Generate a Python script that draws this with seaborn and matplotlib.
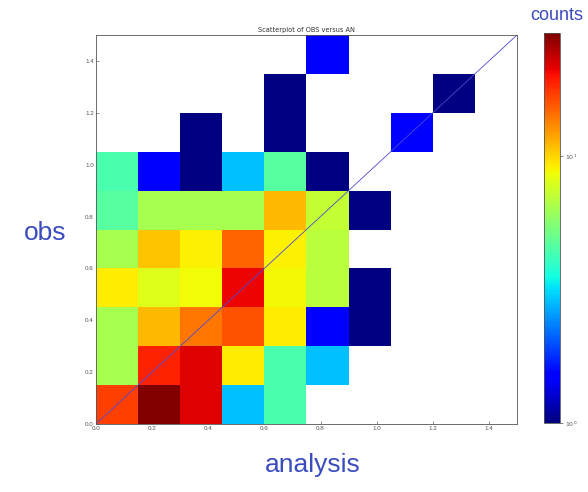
import numpy as np
import pandas as pd
import matplotlib
matplotlib.use("Agg")
import matplotlib.pyplot as plt
from matplotlib.colors import LogNorm
import seaborn as sns

# Bin layout shared by both axes
bin_width = 0.15
n_bins = 10
axis_range = (0.0, 1.5)

# Counts per cell: rows are obs bins (bottom to top), columns are analysis bins (left to right)
row0 = [17, 29, 22, 2.9, 4.4, 0, 0, 0, 0, 0]
row1 = [6.4, 19, 22, 9.2, 4.4, 2.9, 0, 0, 0, 0]
row2 = [6.4, 11, 14, 16, 9.2, 1.45, 1, 0, 0, 0]
row3 = [9.2, 8.0, 8.7, 21, 8.8, 7.0, 1, 0, 0, 0]
row4 = [6.4, 10.6, 9.0, 15, 9.0, 7.0, 0, 0, 0, 0]
row5 = [4.6, 6.4, 6.4, 6.4, 11, 7.2, 1, 0, 0, 0]
row6 = [4.4, 1.45, 1, 2.9, 4.6, 1, 0, 0, 0, 0]
row7 = [0, 0, 1, 0, 1, 0, 0, 1.45, 0, 0]
row8 = [0, 0, 0, 0, 1, 0, 0, 0, 1, 0]
row9 = [0, 0, 0, 0, 0, 1.45, 0, 0, 0, 0]
grid = [row0, row1, row2, row3, row4, row5, row6, row7, row8, row9]

tick_vals = [0.0, 0.2, 0.4, 0.6, 0.8, 1.0, 1.2, 1.4]
tick_labels = ["0.0", "0.2", "0.4", "0.6", "0.8", "1.0", "1.2", "1.4"]
cbar_ticks = [1, 10]
cbar_labels = ["$10^0$", "$10^1$"]
count_max = 29

# Long-form table: one weighted record per non-empty cell, placed at the bin centre
edges = np.linspace(axis_range[0], axis_range[1], n_bins + 1)
centres = (edges[:-1] + edges[1:]) / 2
recs = []
for i, row in enumerate(grid):
    for j, c in enumerate(row):
        if c > 0:
            recs.append({"analysis": centres[j], "obs": centres[i], "count": c})
df = pd.DataFrame(recs)

sns.set_theme(style="white")
plt.rcParams["font.family"] = ["Liberation Sans", "DejaVu Sans"]

fig = plt.figure(figsize=(5.88, 4.92), dpi=100)
ax = fig.add_axes([96 / 588, 1 - 424 / 492, 421 / 588, 389 / 492])
cax = fig.add_axes([544 / 588, 1 - 423 / 492, 16 / 588, 390 / 492])

jet = matplotlib.colormaps["jet"]
sns.histplot(data=df, x="analysis", y="obs", weights="count",
             bins=n_bins, binrange=[axis_range, axis_range],
             cmap=jet, ax=ax)
mesh = ax.collections[0]
mesh.set_norm(LogNorm(vmin=1, vmax=count_max))

# Reference diagonal y = x
ax.axline((axis_range[0], axis_range[0]), slope=1, color="#4a4ad8", lw=0.6)

ax.set_xlim(axis_range)
ax.set_ylim(axis_range)
ax.set_xticks(tick_vals)
ax.set_xticklabels(tick_labels)
ax.set_yticks(tick_vals)
ax.set_yticklabels(tick_labels)
ax.tick_params(axis="both", labelsize=4.5, labelcolor="#555555",
               direction="in", length=2, width=0.4, color="#444444",
               bottom=True, left=True, pad=1.5)
for s in ax.spines.values():
    s.set_color("#555555")
    s.set_linewidth(0.6)
ax.set_xlabel("")
ax.set_ylabel("")
ax.set_title("Scatterplot of OBS versus AN", fontsize=4.8, color="#333333", pad=2,
             family="DejaVu Sans")

cb = fig.colorbar(mesh, cax=cax)
cb.set_ticks(cbar_ticks)
cb.set_ticklabels(cbar_labels)
cb.ax.minorticks_off()
cb.ax.tick_params(labelsize=4.5, labelcolor="#555555", length=2, width=0.4, pad=1.5)
cb.outline.set_linewidth(0.6)
cb.outline.set_edgecolor("#555555")

label_color = "#3a4cc0"
fig.text(45 / 588, 1 - 233 / 492, "obs", fontsize=19, color=label_color,
         ha="center", va="center")
fig.text(313 / 588, 1 - 465 / 492, "analysis", fontsize=19, color=label_color,
         ha="center", va="center")
fig.text(557 / 588, 1 - 16 / 492, "counts", fontsize=13, color=label_color,
         ha="center", va="center")

fig.savefig("out.png", dpi=100)
